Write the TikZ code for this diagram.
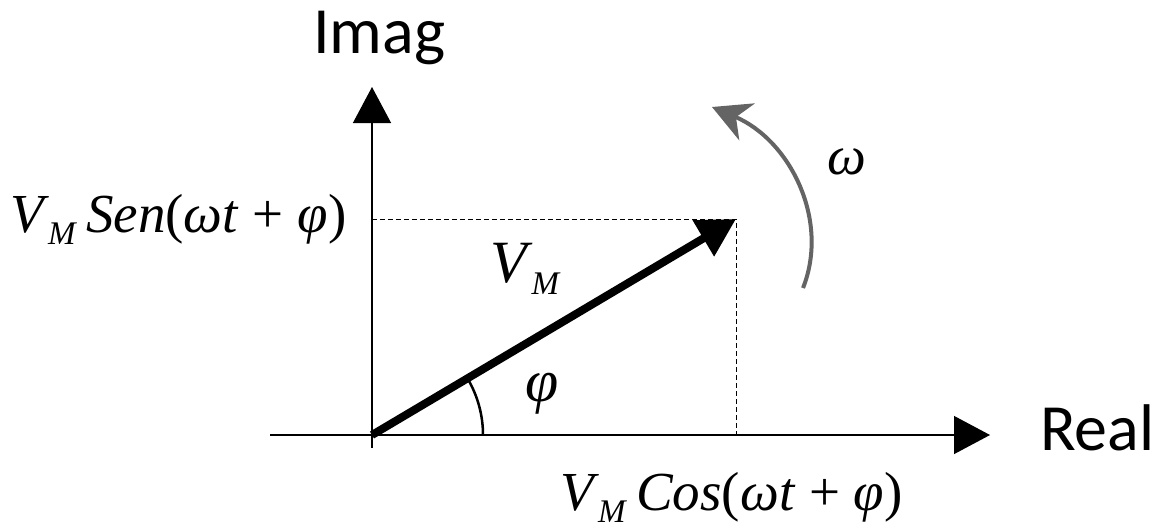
\documentclass[tikz,border=0pt]{standalone}
\usepackage{fontspec}
\usepackage{tikz}
\usetikzlibrary{arrows.meta, positioning, calc}
\usepackage{xcolor}

\newfontfamily\labelfont{Carlito}
\newfontfamily\mathserif{Liberation Serif}
\definecolor{rotgray}{RGB}{100,100,100}

% V with lowered subscript M
\newcommand{\vmag}{\textit{V}\kern-1pt\raisebox{-12pt}{\fontsize{33}{33}\selectfont\textit{M}}}

\begin{document}
\begin{tikzpicture}[x=1pt, y=-1pt,
  axis/.style={line width=1.3pt, -{Triangle[length=36pt, width=38pt]}},
  phasor/.style={line width=8pt, -{Triangle[length=38pt, width=40pt]}},
  guide/.style={line width=1pt, dash pattern=on 5pt off 3pt},
  axislabel/.style={font=\labelfont\fontsize{66}{80}\selectfont, inner sep=0pt},
  formula/.style={font=\mathserif\fontsize{55}{66}\selectfont, inner sep=0pt}]
  \useasboundingbox (0,0) rectangle (1158,531);

  \coordinate (O) at (372,435);
  \coordinate (P) at (736,219);

  % axes
  \draw[axis] (372,448) -- (372,87) coordinate (ytip);
  \draw[axis] (270,435) -- (990,435) coordinate (xtip);
  \node[axislabel, anchor=base west] (imag) at (313,53) {Imag};
  \node[axislabel, anchor=base west] (real) at (1040,450) {Real};

  % projections
  \draw[guide] (O |- P) -- (P) -- (P |- O);

  % phasor and angle
  \draw[phasor] (O) -- (P);
  \draw[line width=2.5pt] ($(O)+(111,0)$) arc[start angle=0, end angle=-30.6, radius=111];
  \node[formula, font=\mathserif\fontsize{60}{70}\selectfont, anchor=base west] (vmlabel) at (490,282) {\vmag};
  \node[formula, font=\mathserif\fontsize{60}{70}\selectfont] (philabel) at (542,394) {\textit{φ}};

  % rotation
  \draw[rotgray, line width=4pt, -{Stealth[length=38pt, width=40pt, inset=12pt]}]
    (803,288) .. controls (830,220) and (790,140) .. (712,107);
  \node[formula] (omegalabel) at (847,162) {\textit{ω}};

  % components
  \node[formula, anchor=base west] (sen) at (10,232) {\vmag\,\textit{Sen}(\textit{ωt} + \textit{φ})};
  \node[formula, anchor=base west] (cos) at (560,510) {\vmag\,\textit{Cos}(\textit{ωt} + \textit{φ})};
\end{tikzpicture}
\end{document}
